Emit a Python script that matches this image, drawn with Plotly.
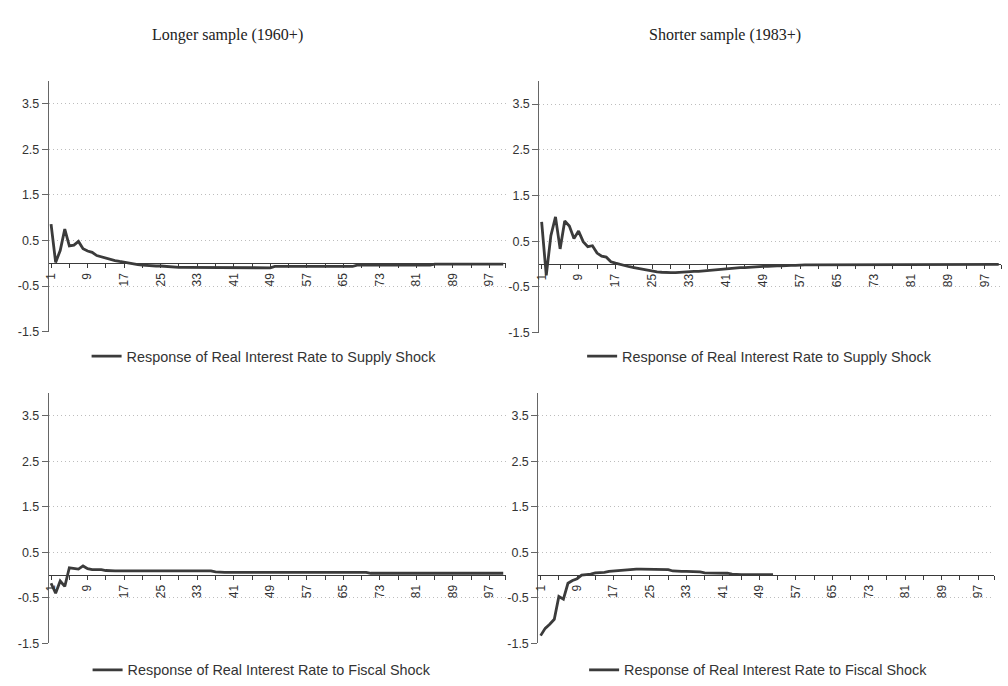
import plotly.graph_objects as go

W, H = 1008, 686

# Impulse horizon (quarters after the shock)
PERIODS = list(range(1, 101))

# Response of the real interest rate to a supply shock, 1960+ sample
LONG_SUPPLY = [
    0.86, 0.02, 0.28, 0.75, 0.38, 0.40, 0.48, 0.32, 0.27, 0.24,
    0.17, 0.14, 0.12, 0.08, 0.06, 0.04, 0.02, 0.00, -0.01, -0.03,
    -0.04, -0.05, -0.05, -0.06, -0.06, -0.07, -0.08, -0.08, -0.09, -0.09,
    -0.09, -0.09, -0.09, -0.10, -0.10, -0.10, -0.10, -0.10, -0.10, -0.10,
    -0.10, -0.10, -0.10, -0.10, -0.10, -0.10, -0.10, -0.10, -0.10, -0.07,
    -0.07, -0.07, -0.07, -0.07, -0.07, -0.07, -0.07, -0.07, -0.07, -0.07,
    -0.07, -0.07, -0.07, -0.07, -0.07, -0.07, -0.07, -0.04, -0.04, -0.04,
    -0.04, -0.04, -0.04, -0.04, -0.04, -0.04, -0.04, -0.04, -0.04, -0.04,
    -0.04, -0.04, -0.04, -0.04, -0.02, -0.02, -0.02, -0.02, -0.02, -0.02,
    -0.02, -0.02, -0.02, -0.02, -0.02, -0.02, -0.02, -0.02, -0.02, -0.02,
]

# Response of the real interest rate to a supply shock, 1983+ sample
SHORT_SUPPLY = [
    0.92, -0.25, 0.62, 1.03, 0.33, 0.94, 0.83, 0.56, 0.72, 0.49,
    0.38, 0.40, 0.24, 0.17, 0.15, 0.05, 0.02, -0.01, -0.04, -0.06,
    -0.08, -0.10, -0.12, -0.14, -0.16, -0.17, -0.18, -0.19, -0.19, -0.19,
    -0.18, -0.17, -0.16, -0.16, -0.16, -0.15, -0.14, -0.13, -0.12, -0.12,
    -0.11, -0.10, -0.09, -0.08, -0.08, -0.07, -0.06, -0.06, -0.05, -0.05,
    -0.04, -0.04, -0.04, -0.03, -0.03, -0.03, -0.02, -0.02, -0.02, -0.02,
    -0.02, -0.02, -0.02, -0.02, -0.02, -0.02, -0.02, -0.02, -0.02, -0.02,
    -0.02, -0.01, -0.01, -0.01, -0.01, -0.01, -0.01, -0.01, -0.01, -0.01,
    -0.01, -0.01, -0.01, -0.01, -0.01, -0.01, -0.01, -0.01, -0.01, -0.01,
    -0.01, -0.01, -0.01, -0.01, -0.01, -0.01, -0.01, -0.01, -0.01, -0.01,
]

# Response of the real interest rate to a fiscal shock, 1960+ sample
LONG_FISCAL = [
    -0.18, -0.40, -0.13, -0.25, 0.16, 0.14, 0.13, 0.20, 0.14, 0.12,
    0.12, 0.12, 0.10, 0.09, 0.09, 0.09, 0.09, 0.09, 0.09, 0.09,
    0.09, 0.09, 0.09, 0.09, 0.09, 0.09, 0.09, 0.09, 0.09, 0.09,
    0.09, 0.09, 0.09, 0.09, 0.09, 0.09, 0.07, 0.06, 0.06, 0.06,
    0.06, 0.06, 0.06, 0.06, 0.06, 0.06, 0.06, 0.06, 0.06, 0.06,
    0.06, 0.06, 0.06, 0.06, 0.06, 0.06, 0.06, 0.06, 0.06, 0.06,
    0.06, 0.06, 0.06, 0.06, 0.06, 0.06, 0.06, 0.06, 0.06, 0.06,
    0.04, 0.04, 0.04, 0.04, 0.04, 0.04, 0.04, 0.04, 0.04, 0.04,
    0.04, 0.04, 0.04, 0.04, 0.04, 0.04, 0.04, 0.04, 0.04, 0.04,
    0.04, 0.04, 0.04, 0.04, 0.04, 0.04, 0.04, 0.04, 0.04, 0.04,
]

# Response of the real interest rate to a fiscal shock, 1983+ sample
SHORT_FISCAL = [
    -1.33, -1.17, -1.08, -0.97, -0.47, -0.53, -0.18, -0.12, -0.08, 0.00,
    0.01, 0.02, 0.05, 0.05, 0.06, 0.08, 0.09, 0.09, 0.10, 0.11,
    0.12, 0.13, 0.13, 0.13, 0.13, 0.13, 0.13, 0.13, 0.12, 0.09,
    0.08, 0.08, 0.08, 0.08, 0.08, 0.07, 0.05, 0.05, 0.05, 0.05,
    0.05, 0.04, 0.02, 0.01, 0.01, 0.01, 0.01, 0.01, 0.01, 0.01,
    0.01, 0.01,
]

Y_TICKS = [-1.5, -0.5, 0.5, 1.5, 2.5, 3.5]
Y_TICK_TEXT = ["-1.5", "-0.5", "0.5", "1.5", "2.5", "3.5"]
Y_RANGE = [-1.5, 4.0]

X_TICKS = list(range(1, 98, 4))
X_LABELS = ["1", "9", "17", "25", "33", "41", "49", "57", "65", "73", "81", "89", "97"]

TITLES = ["Longer sample (1960+)", "Shorter sample (1983+)"]
SERIES_NAMES = [
    "Response of Real Interest Rate to Supply Shock",
    "Response of Real Interest Rate to Supply Shock",
    "Response of Real Interest Rate to Fiscal Shock",
    "Response of Real Interest Rate to Fiscal Shock",
]

LINE_COLOR = "#3b3b3b"
TEXT_COLOR = "#333333"
SANS = "Liberation Sans, Arial, sans-serif"
SERIF = "Liberation Serif, Times New Roman, serif"


def px_x(v):
    return v / W


def px_y(v):
    return 1 - v / H


# plot boxes in pixels: (left, right, top, bottom), plus legend anchor (x, y)
panels = [
    dict(data=LONG_SUPPLY, box=(44, 503, 82, 335), legend=(82, 360)),
    dict(data=SHORT_SUPPLY, box=(537, 1001, 82, 336), legend=(580, 360)),
    dict(data=LONG_FISCAL, box=(44, 503, 397, 650), legend=(83, 677)),
    dict(data=SHORT_FISCAL, box=(536, 994, 397, 650), legend=(582, 677)),
]

x_tick_text = []
for i, v in enumerate(X_TICKS):
    x_tick_text.append(X_LABELS[i // 2] if i % 2 == 0 else "")

fig = go.Figure()
layout = dict(
    width=W,
    height=H,
    margin=dict(l=0, r=0, t=0, b=0),
    paper_bgcolor="white",
    plot_bgcolor="white",
    font=dict(family=SANS, color=TEXT_COLOR, size=12),
)

for k, p in enumerate(panels):
    n = k + 1
    xa = "x" if n == 1 else f"x{n}"
    ya = "y" if n == 1 else f"y{n}"
    leg = "legend" if n == 1 else f"legend{n}"
    left, right, top, bottom = p["box"]
    y0, y1 = px_y(bottom), px_y(top)
    # paper position of the zero line, where the category axis crosses
    zero_pos = y0 + (0 - Y_RANGE[0]) / (Y_RANGE[1] - Y_RANGE[0]) * (y1 - y0)

    fig.add_trace(go.Scatter(
        x=PERIODS[:len(p["data"])],
        y=p["data"],
        mode="lines",
        name=SERIES_NAMES[k],
        line=dict(color=LINE_COLOR, width=2.8),
        xaxis=xa,
        yaxis=ya,
        legend=leg,
        showlegend=True,
        hoverinfo="skip",
    ))

    layout["xaxis" if n == 1 else f"xaxis{n}"] = dict(
        domain=[px_x(left), px_x(right)],
        range=[0.5, 100.5],
        anchor="free",
        position=zero_pos,
        showgrid=False,
        zeroline=False,
        showline=True,
        linecolor="#3a3a3a",
        linewidth=1,
        ticks="outside",
        ticklen=4,
        tickcolor="#3a3a3a",
        tickvals=X_TICKS + [100.5],
        ticktext=x_tick_text + [""],
        tickangle=-90,
        tickfont=dict(size=12, color=TEXT_COLOR),
        fixedrange=True,
    )
    layout["yaxis" if n == 1 else f"yaxis{n}"] = dict(
        domain=[y0, y1],
        range=Y_RANGE,
        anchor=xa,
        showline=True,
        linecolor="#666666",
        linewidth=1,
        ticks="outside",
        ticklen=6,
        tickcolor="#666666",
        tickvals=Y_TICKS,
        ticktext=Y_TICK_TEXT,
        showgrid=True,
        gridcolor="#bdbdbd",
        griddash="1px,3px",
        gridwidth=1,
        zeroline=False,
        tickfont=dict(size=12.5, color=TEXT_COLOR),
        fixedrange=True,
    )
    lx, ly = p["legend"]
    layout[leg] = dict(
        x=px_x(lx),
        y=px_y(ly),
        xanchor="left",
        yanchor="middle",
        bgcolor="rgba(0,0,0,0)",
        borderwidth=0,
        itemwidth=30,
        font=dict(family=SANS, size=14.4, color=TEXT_COLOR),
    )

layout["annotations"] = [
    dict(text=TITLES[0], x=px_x(224), y=px_y(35), xref="paper", yref="paper",
         xanchor="center", yanchor="middle", showarrow=False,
         font=dict(family=SERIF, size=16, color="#222222")),
    dict(text=TITLES[1], x=px_x(724), y=px_y(35), xref="paper", yref="paper",
         xanchor="center", yanchor="middle", showarrow=False,
         font=dict(family=SERIF, size=16, color="#222222")),
]

fig.update_layout(**layout)
fig.write_html("out.html")
